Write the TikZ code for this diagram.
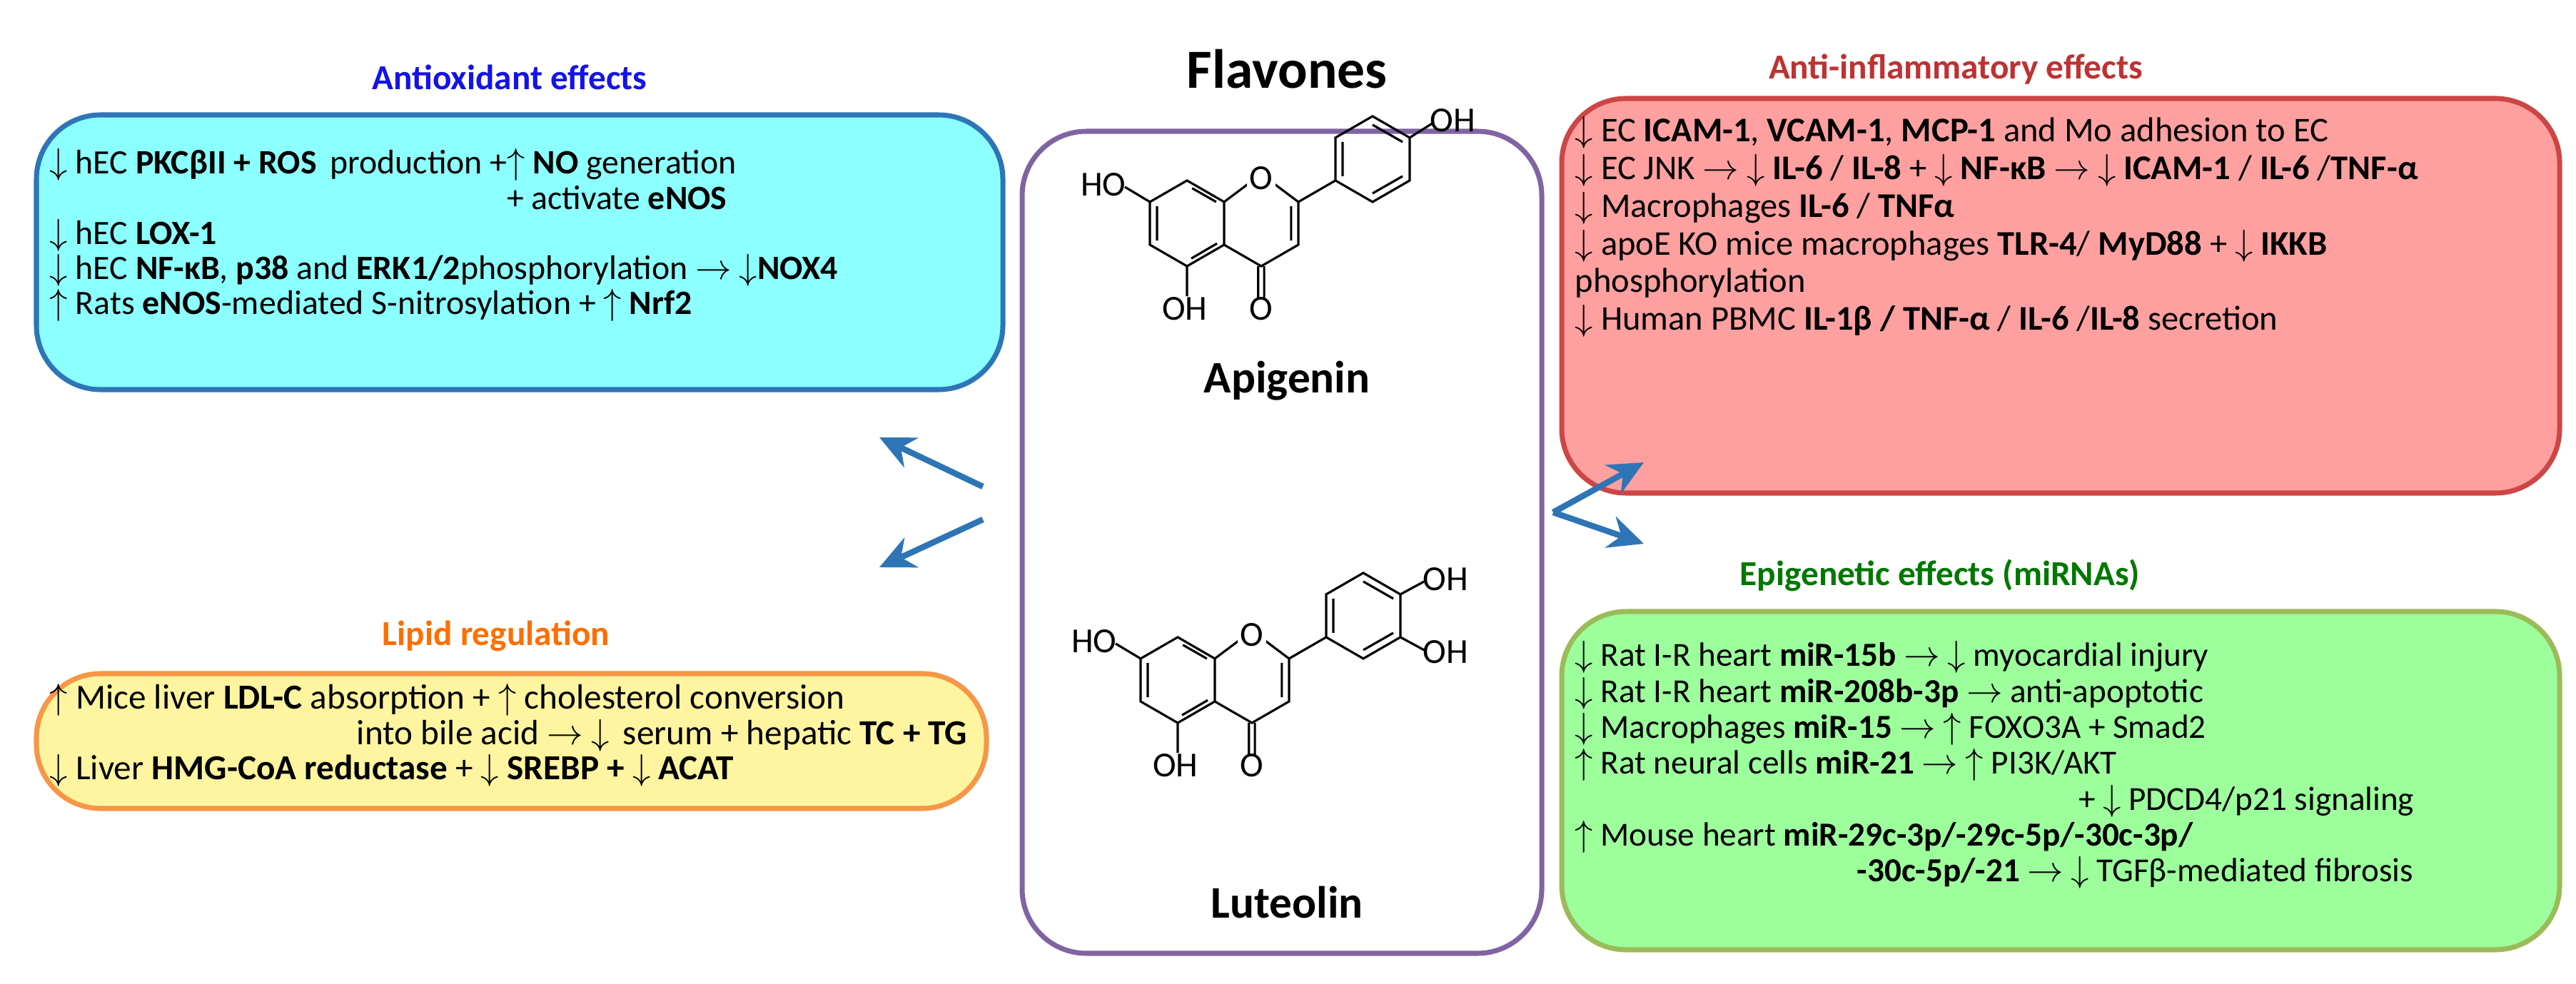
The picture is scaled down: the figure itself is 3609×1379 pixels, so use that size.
\documentclass[tikz,border=0pt]{standalone}
\usepackage{fontspec}
\setmainfont{Carlito}
\usetikzlibrary{arrows.meta}
\definecolor{aoF}{RGB}{140,255,255}\definecolor{aoD}{RGB}{46,117,182}
\definecolor{lpF}{RGB}{255,245,160}\definecolor{lpD}{RGB}{247,150,70}
\definecolor{aiF}{RGB}{255,160,160}\definecolor{aiD}{RGB}{205,70,70}
\definecolor{epF}{RGB}{156,255,156}\definecolor{epD}{RGB}{155,187,89}
\definecolor{pur}{RGB}{128,100,162}\definecolor{arr}{RGB}{46,117,182}
\newcommand{\dn}{$\downarrow$}\newcommand{\up}{$\uparrow$}\newcommand{\ra}{$\rightarrow$}
\tikzset{atom/.style={font=\fontsize{14}{14}\selectfont}}
\newcommand{\flavskel}{%
 \draw[line width=0.9pt]
  (90:1)--(30:1)--(-30:1)--(-90:1)--(-150:1)--(150:1)--cycle
  (30:1)--(1.732,1.15) (1.732,1.15)--(2.598,0.5)--(2.598,-0.5)--(1.732,-1)--(-30:1)
  (2.598,0.5)--(3.464,1)
  (3.464,1)--(3.464,2)--(4.33,2.5)--(5.196,2)--(5.196,1)--(4.33,0.5)--cycle
  (1.66,-1)--(1.66,-1.75) (1.80,-1)--(1.80,-1.75)
  (0,-1)--(0,-1.7) (150:1)--(-1.45,0.85);
 \draw[line width=0.9pt]
  (-0.7,0.4)--(-0.7,-0.4) (0.1,-0.82)--(0.7,-0.47) (0.12,0.82)--(0.68,0.5)
  (2.43,0.4)--(2.43,-0.4)
  (3.63,1.1)--(3.63,1.9) (4.33,0.7)--(5.03,1.1) (4.33,2.3)--(5.03,1.9);
 \node[atom,fill=white,inner sep=1pt] at (1.732,1.05) {O};
 \node[atom] at (1.732,-2.0) {O};
 \node[atom] at (-0.05,-2.0) {OH};
 \node[atom] at (-1.95,0.9) {HO};}
\begin{document}
\begin{tikzpicture}[x=0.01cm,y=-0.01cm,
  box/.style={rounded corners=0.9cm,line width=2pt},
  ttl/.style={font=\fontsize{14}{16}\bfseries\selectfont},
  txt/.style={anchor=north west,inner sep=0pt,align=left},
  arw/.style={draw=arr,line width=2.4pt,-{Stealth[length=14pt,width=13pt]}}]
\useasboundingbox (0,0) rectangle (3609,1379);
% boxes
\draw[box,draw=aoD,fill=aoF] (51,161) rectangle (1405,546);
\draw[box,draw=lpD,fill=lpF] (51,944) rectangle (1382,1133);
\draw[box,draw=pur] (1432,184) rectangle (2160,1336);
\draw[box,draw=aiD,fill=aiF] (2188,138) rectangle (3586,691);
\draw[box,draw=epD,fill=epF] (2188,857) rectangle (3586,1331);
% titles
\node[ttl,text={rgb,255:red,20;green,20;blue,230}] (tao) at (714,108) {Antioxidant effects};
\node[ttl,text={rgb,255:red,255;green,110;blue,0}] (tlp) at (695,891) {Lipid regulation};
\node[font=\fontsize{22}{24}\bfseries\selectfont] (tfl) at (1803,97) {Flavones};
\node[ttl,text={rgb,255:red,190;green,50;blue,50}] (tai) at (2740,97) {Anti-inflammatory effects};
\node[ttl,text={rgb,255:red,0;green,120;blue,0}] (tep) at (2718,806) {Epigenetic effects (miRNAs)};
% texts
\node[txt,font=\fontsize{13.6}{14}\selectfont] (ao) at (69,208) {%
\dn{} hEC \textbf{PKCβII + ROS} \,production +\up{} \textbf{NO} generation\\
\hspace*{6.4cm}+ activate \textbf{eNOS}\\
\dn{} hEC \textbf{LOX-1}\\
\dn{} hEC \textbf{NF-κB}, \textbf{p38} and \textbf{ERK1/2}phosphorylation \ra{} \dn\textbf{NOX4}\\
\up{} Rats \textbf{eNOS}-mediated S-nitrosylation + \up{} \textbf{Nrf2}};
\node[txt,font=\fontsize{14}{14}\selectfont] (lp) at (69,958) {%
\up{} Mice liver \textbf{LDL-C} absorption + \up{} cholesterol conversion\\
\hspace*{4.3cm}into bile acid \ra{} \dn{} \,serum + hepatic \textbf{TC + TG}\\
\dn{} Liver \textbf{HMG-CoA reductase} + \dn{} \textbf{SREBP +} \dn{} \textbf{ACAT}};
\node[txt,font=\fontsize{13.8}{15}\selectfont] (ai) at (2206,163) {%
\dn{} EC \textbf{ICAM-1}, \textbf{VCAM-1}, \textbf{MCP-1} and Mo adhesion to EC\\
\dn{} EC JNK \ra{} \dn{} \textbf{IL-6} / \textbf{IL-8} + \dn{} \textbf{NF-κB} \ra{} \dn{} \textbf{ICAM-1} / \textbf{IL-6} /\textbf{TNF-α}\\
\dn{} Macrophages \textbf{IL-6} / \textbf{TNFα}\\
\dn{} apoE KO mice macrophages \textbf{TLR-4}/ \textbf{MyD88} + \dn{} \textbf{IKKB}\\
phosphorylation\\
\dn{} Human PBMC \textbf{IL-1β / TNF-α} / \textbf{IL-6} /\textbf{IL-8} secretion};
\node[txt,font=\fontsize{13.4}{14.3}\selectfont] (ep) at (2206,898) {%
\dn{} Rat I-R heart \textbf{miR-15b} \ra{} \dn{} myocardial injury\\
\dn{} Rat I-R heart \textbf{miR-208b-3p} \ra{} anti-apoptotic\\
\dn{} Macrophages \textbf{miR-15} \ra{} \up{} FOXO3A + Smad2\\
\up{} Rat neural cells \textbf{miR-21} \ra{} \up{} PI3K/AKT\\
\hspace*{7.05cm}+ \dn{} PDCD4/p21 signaling\\
\up{} Mouse heart \textbf{miR-29c-3p/-29c-5p/-30c-3p/}\\
\hspace*{3.95cm}\textbf{-30c-5p/-21} \ra{} \dn{} TGFβ-mediated fibrosis};
% molecules
\begin{scope}[shift={(1663,313)},x=0.6cm,y=0.6cm]
 \flavskel
 \draw[line width=0.9pt] (5.196,2)--(5.75,2.35);
 \node[atom] at (6.2,2.4) {OH};
\end{scope}
\node[font=\fontsize{18}{20}\bfseries\selectfont] (api) at (1803,534) {Apigenin};
\begin{scope}[shift={(1650,953)},x=0.6cm,y=0.6cm]
 \flavskel
 \draw[line width=0.9pt] (5.196,2)--(5.75,2.3) (5.196,1)--(5.75,0.7);
 \node[atom] at (6.25,2.35) {OH};
 \node[atom] at (6.25,0.65) {OH};
\end{scope}
\node[font=\fontsize{18}{20}\bfseries\selectfont] (lut) at (1803,1265) {Luteolin};
% arrows
\coordinate (L1) at (1377,682);\coordinate (L2) at (1377,728);
\coordinate (R) at (2176,718);
\coordinate (la) at (1232,613);\coordinate (lb) at (1232,795);
\coordinate (ra) at (2303,648);\coordinate (rb) at (2303,762);
\draw[arw] (L1)--(la); \draw[arw] (L2)--(lb);
\draw[arw] (R)--(ra); \draw[arw] (R)--(rb);
\end{tikzpicture}
\end{document}
